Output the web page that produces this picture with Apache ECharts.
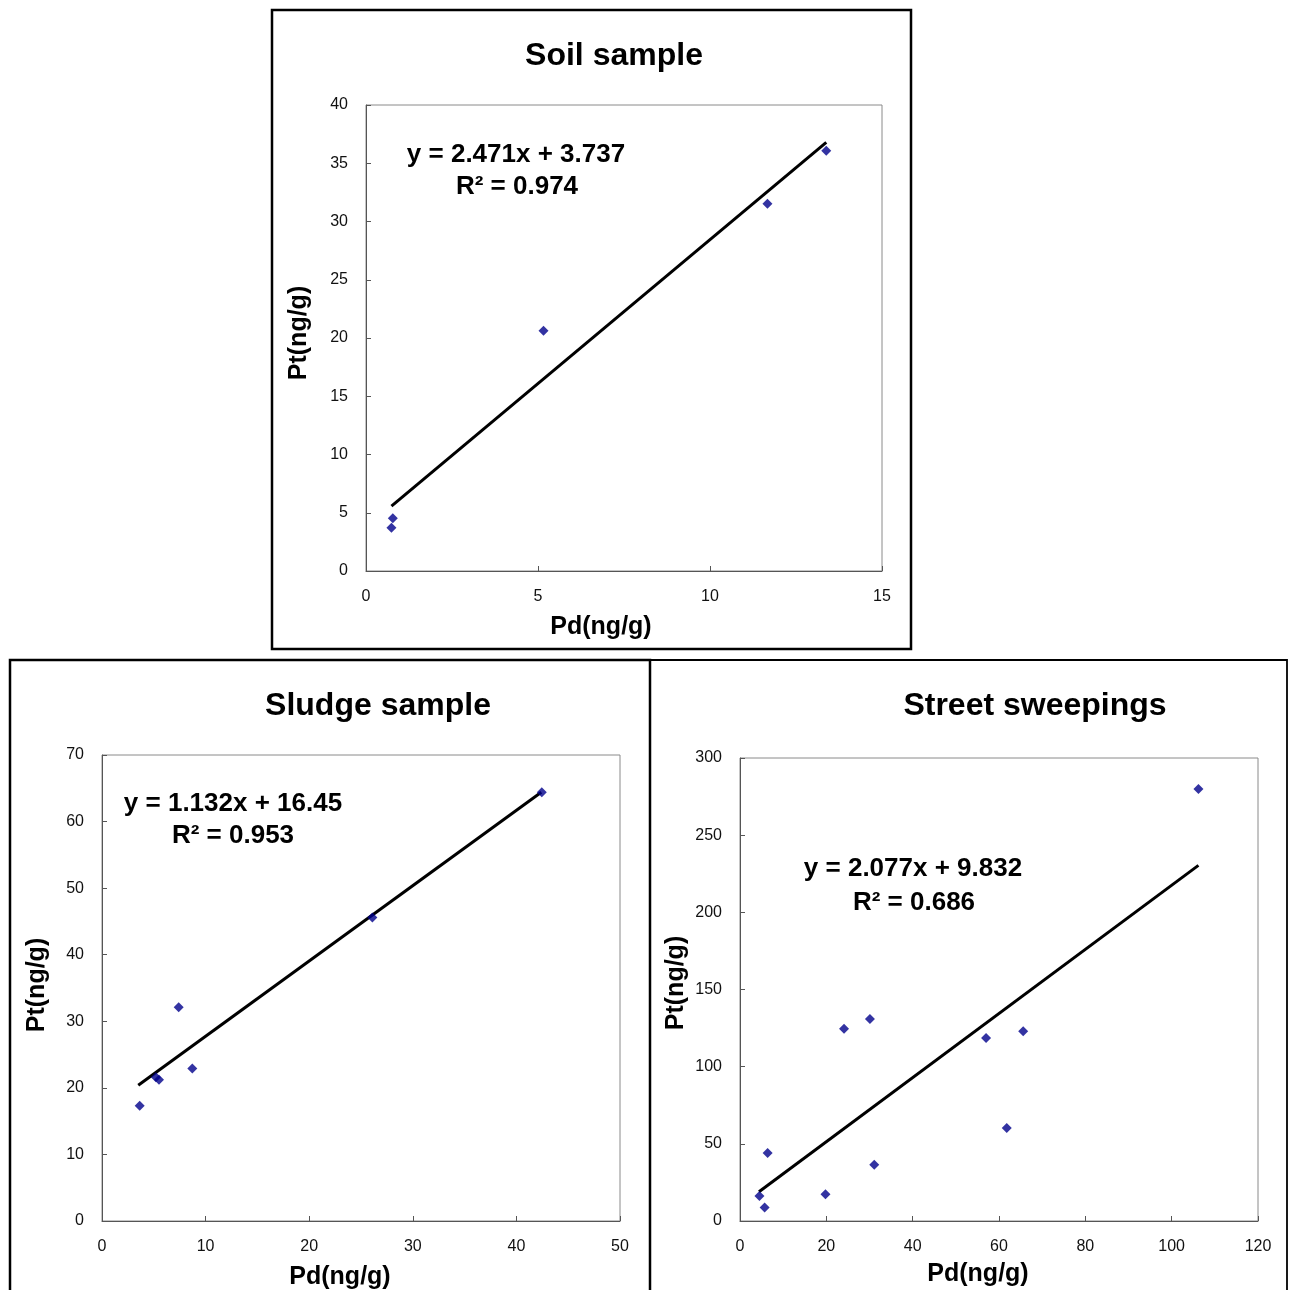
<!DOCTYPE html>
<html>
<head>
<meta charset="utf-8">
<script src="https://cdn.jsdelivr.net/npm/echarts@6/dist/echarts.min.js"></script>
<style>html,body{margin:0;padding:0;background:#fff;}#c{width:1289px;height:1290px;}</style>
</head>
<body>
<div id="c"></div>
<script>
// ---- Data ----
const soilPd = [0.78, 0.74, 5.16, 11.67, 13.38];
const soilPt = [4.52, 3.72, 20.63, 31.53, 36.08];
const soilTrendPd = [0.74, 13.38];
const soilTrendPt = [5.57, 36.8];
const soilEq = ["y = 2.471x + 3.737", "R\u00b2 = 0.974"];

const sludgePd = [3.64, 5.2, 5.5, 7.4, 8.72, 26.1, 42.45];
const sludgePt = [17.3, 21.6, 21.2, 32.1, 22.9, 45.6, 64.4];
const sludgeTrendPd = [3.5, 42.4];
const sludgeTrendPt = [20.4, 64.4];
const sludgeEq = ["y = 1.132x + 16.45", "R\u00b2 = 0.953"];

const streetPd = [4.5, 5.7, 6.4, 19.8, 24.1, 30.1, 31.1, 57.0, 61.8, 65.6, 106.2];
const streetPt = [16.2, 8.7, 44.0, 17.3, 124.6, 130.9, 36.5, 118.6, 60.2, 122.9, 279.9];
const streetTrendPd = [4.4, 106.2];
const streetTrendPt = [19.0, 230.4];
const streetEq = ["y = 2.077x + 9.832", "R\u00b2 = 0.686"];

const titles = ["Soil sample", "Sludge sample", "Street sweepings"];
const xName = "Pd(ng/g)";
const yName = "Pt(ng/g)";

// axis ranges / tick intervals
const xMax = [15, 50, 120], xInt = [5, 10, 20];
const yMax = [40, 70, 300], yInt = [5, 10, 50];

// ---- Build ----
const FONT = '"Liberation Sans", Arial, sans-serif';
const zip = (a, b) => a.map((v, i) => [v, b[i]]);
const grids = [
  {left: 366, top: 105, width: 516, height: 466},
  {left: 102, top: 755, width: 518, height: 466},
  {left: 740, top: 758, width: 518, height: 463}
];

const xAxes = [], yAxes = [];
for (let i = 0; i < 3; i++) {
  xAxes.push({
    type: 'value', gridIndex: i, min: 0, max: xMax[i], interval: xInt[i],
    axisLine: {show: true, onZero: false, lineStyle: {color: '#555', width: 1}},
    axisTick: {show: true, inside: true, length: 5, lineStyle: {color: '#555'}},
    axisLabel: {color: '#111', fontSize: 16, fontFamily: FONT, margin: 18},
    splitLine: {show: false}
  });
  yAxes.push({
    type: 'value', gridIndex: i, min: 0, max: yMax[i], interval: yInt[i],
    axisLine: {show: true, onZero: false, lineStyle: {color: '#555', width: 1}},
    axisTick: {show: true, inside: true, length: 5, lineStyle: {color: '#555'}},
    axisLabel: {color: '#111', fontSize: 16, fontFamily: FONT, margin: 18},
    splitLine: {show: false}
  });
}

const pts = [zip(soilPd, soilPt), zip(sludgePd, sludgePt), zip(streetPd, streetPt)];
const trends = [zip(soilTrendPd, soilTrendPt), zip(sludgeTrendPd, sludgeTrendPt), zip(streetTrendPd, streetTrendPt)];
const series = [];
for (let i = 0; i < 3; i++) {
  series.push({
    type: 'line', xAxisIndex: i, yAxisIndex: i, data: trends[i],
    symbol: 'none', lineStyle: {color: '#000', width: 3}, z: 2, animation: false
  });
  series.push({
    type: 'scatter', xAxisIndex: i, yAxisIndex: i, data: pts[i],
    symbol: 'diamond', symbolSize: 10, itemStyle: {color: '#00008b'}, z: 3, animation: false
  });
}

const gridObjs = grids.map(g => Object.assign({show: true, borderColor: '#8a8a8a', borderWidth: 1, backgroundColor: '#fff'}, g));

const titleText = (text, x, y, size) => ({
  type: 'text', x: x, y: y,
  style: {text: text, font: 'bold ' + size + 'px ' + FONT, fill: '#000', textAlign: 'center', textVerticalAlign: 'middle'}, z: 10
});
const rotText = (text, x, y) => ({
  type: 'text', x: x, y: y, rotation: Math.PI / 2,
  style: {text: text, font: 'bold 25px ' + FONT, fill: '#000', textAlign: 'center', textVerticalAlign: 'middle'}, z: 10
});
const box = (x1, y1, x2, y2, w) => ({
  type: 'rect', shape: {x: x1, y: y1, width: x2 - x1, height: y2 - y1},
  style: {fill: null, stroke: '#000', lineWidth: w}, z: 0
});

const graphic = [
  box(272, 10, 911, 649, 2.5),
  box(10, 660, 650, 1300, 2.5),
  box(650, 660, 1287, 1300, 1.8),
  titleText(titles[0], 614, 56, 32),
  titleText(titles[1], 378, 706, 32),
  titleText(titles[2], 1035, 706, 32),
  titleText(xName, 601, 627, 25),
  titleText(xName, 340, 1277, 25),
  titleText(xName, 978, 1274, 25),
  rotText(yName, 299, 333),
  rotText(yName, 37, 985),
  rotText(yName, 676, 983),
  titleText(soilEq[0], 516, 155, 26),
  titleText(soilEq[1], 517, 187, 26),
  titleText(sludgeEq[0], 233, 804, 26),
  titleText(sludgeEq[1], 233, 836, 26),
  titleText(streetEq[0], 913, 869, 26),
  titleText(streetEq[1], 914, 903, 26)
];

const chart = echarts.init(document.getElementById('c'), null, {renderer: 'canvas'});
chart.setOption({
  backgroundColor: '#fff',
  animation: false,
  grid: gridObjs,
  xAxis: xAxes,
  yAxis: yAxes,
  series: series,
  graphic: graphic
});
</script>
</body>
</html>
